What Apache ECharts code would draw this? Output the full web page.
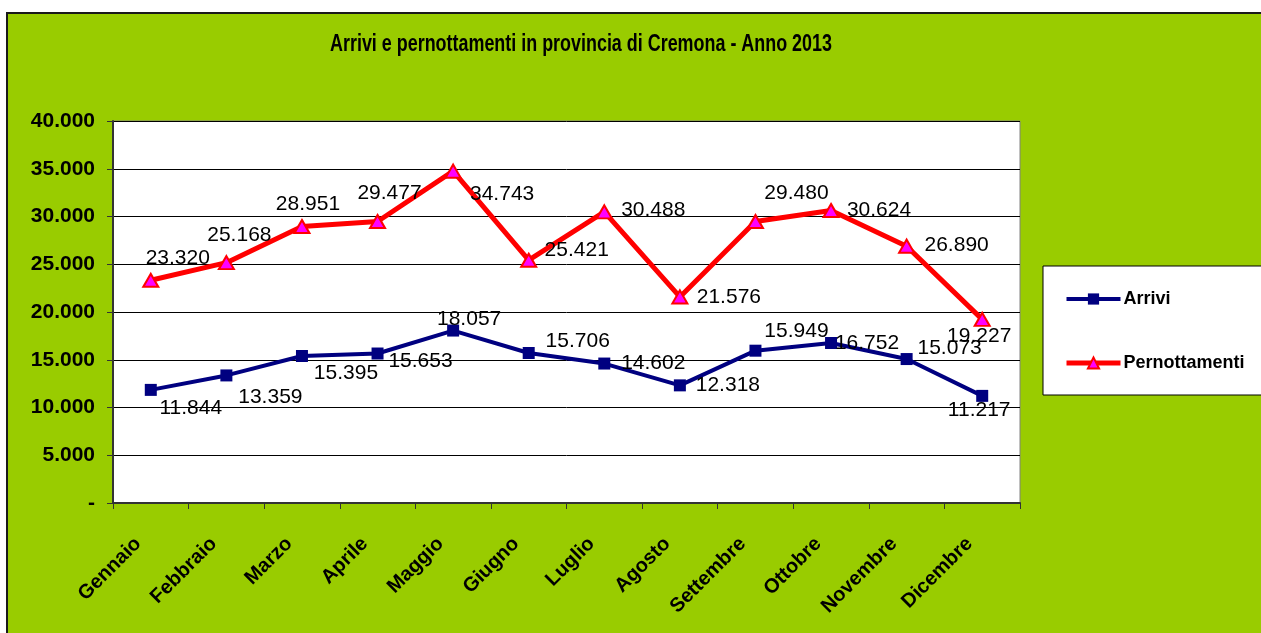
<!DOCTYPE html>
<html>
<head>
<meta charset="utf-8">
<script src="https://cdn.jsdelivr.net/npm/echarts@6/dist/echarts.min.js"></script>
<style>
  html, body { margin: 0; padding: 0; background: #fff; }
  #chart { width: 1261px; height: 633px; }
</style>
</head>
<body>
<div id="chart"></div>
<script>
const titolo = 'Arrivi e pernottamenti in provincia di Cremona - Anno 2013'
const mesi = ['Gennaio', 'Febbraio', 'Marzo', 'Aprile', 'Maggio', 'Giugno',
  'Luglio', 'Agosto', 'Settembre', 'Ottobre', 'Novembre', 'Dicembre']
const arrivi = [11844, 13359, 15395, 15653, 18057, 15706, 14602, 12318, 15949, 16752, 15073, 11217]
const pernottamenti = [23320, 25168, 28951, 29477, 34743, 25421, 30488, 21576, 29480, 30624, 26890, 19227]
const yTicks = [0, 5000, 10000, 15000, 20000, 25000, 30000, 35000, 40000]

// label offsets (px from the point), like the hand-moved labels in the original
const offArrivi = [[40, 18], [44, 22], [44, 17], [43, 8], [16, -11], [49, -12],
  [49, 0], [48, 0], [41, -19], [36, 0], [43, -11], [-3, 14]]
const offPern = [[27, -22], [13, -27], [6, -22], [12, -28], [49, 23], [48, -10],
  [49, -2], [49, 0], [41, -28], [48, 0], [50, -1], [-3, 17]]

const fmt = v => v === 0 ? '-' : String(v).replace(/\B(?=(\d{3})+(?!\d))/g, '.')

const mkData = (vals, offs) => vals.map((v, i) => ({
  value: v,
  label: { offset: offs[i] }
}))

// the title in the original is a narrow bold face: squeeze a normal one to the same width
const titleFont = 'bold 23px "Liberation Sans", Arial, sans-serif'
const ctx = document.createElement('canvas').getContext('2d')
ctx.font = titleFont
const titleScale = 502 / ctx.measureText(titolo).width

const chart = echarts.init(document.getElementById('chart'))
const pointLabel = {
  show: true,
  position: 'inside',
  align: 'center',
  verticalAlign: 'middle',
  color: '#000',
  fontFamily: 'Arial, Liberation Sans, sans-serif',
  fontSize: 21,
  formatter: p => fmt(p.value)
}

chart.setOption({
  animation: false,
  backgroundColor: '#fff',
  graphic: [{
    type: 'rect',
    z: -10,
    shape: { x: 7, y: 13, width: 1270, height: 640 },
    style: { fill: '#99CC00', stroke: '#1a1a1a', lineWidth: 2 }
  }, {
    type: 'text',
    x: 581,
    y: 45,
    scaleX: titleScale,
    style: {
      text: titolo,
      font: titleFont,
      fill: '#000',
      align: 'center',
      verticalAlign: 'middle'
    }
  }],
  legend: {
    orient: 'vertical',
    left: 1043,
    top: 266,
    backgroundColor: '#fff',
    borderColor: '#000',
    borderWidth: 1,
    padding: [24, 40, 23, 21],
    itemWidth: 54,
    itemHeight: 14,
    itemGap: 46,
    textStyle: {
      fontFamily: 'Arial, Liberation Sans, sans-serif',
      fontWeight: 'bold',
      fontSize: 18,
      color: '#000',
      padding: [0, 0, 0, -2]
    },
    data: [
      { name: 'Arrivi', lineStyle: { width: 4 } },
      { name: 'Pernottamenti', lineStyle: { width: 5 } }
    ]
  },
  grid: {
    left: 113,
    top: 121,
    right: 241,
    bottom: 130,
    show: true,
    backgroundColor: '#fff',
    borderColor: '#808080',
    borderWidth: 1
  },
  xAxis: {
    type: 'category',
    data: mesi,
    boundaryGap: true,
    axisLine: { lineStyle: { color: '#333', width: 2 } },
    axisTick: { show: true, length: 6, lineStyle: { color: '#333' } },
    axisLabel: {
      rotate: 45,
      interval: 0,
      margin: 25,
      padding: [0, 18, 0, 0],
      color: '#000',
      fontFamily: 'Arial, Liberation Sans, sans-serif',
      fontWeight: 'bold',
      fontSize: 20
    }
  },
  yAxis: {
    type: 'value',
    min: yTicks[0],
    max: yTicks[yTicks.length - 1],
    interval: yTicks[1] - yTicks[0],
    axisLine: { show: true, lineStyle: { color: '#333', width: 2 } },
    axisTick: { show: true, length: 6, lineStyle: { color: '#333' } },
    splitLine: { lineStyle: { color: '#000', width: 1 } },
    axisLabel: {
      margin: 18,
      color: '#000',
      fontFamily: 'Arial, Liberation Sans, sans-serif',
      fontWeight: 'bold',
      fontSize: 21,
      formatter: fmt
    }
  },
  series: [
    {
      name: 'Arrivi',
      type: 'line',
      data: mkData(arrivi, offArrivi),
      symbol: 'rect',
      symbolSize: 12,
      lineStyle: { color: '#000080', width: 4 },
      itemStyle: { color: '#000080' },
      label: pointLabel,
      z: 3
    },
    {
      name: 'Pernottamenti',
      type: 'line',
      data: mkData(pernottamenti, offPern),
      symbol: 'triangle',
      symbolSize: [15, 13],
      lineStyle: { color: '#FF0000', width: 5 },
      itemStyle: { color: '#FF00FF', borderColor: '#FF0000', borderWidth: 2 },
      label: pointLabel,
      z: 4
    }
  ]
})
</script>
</body>
</html>
